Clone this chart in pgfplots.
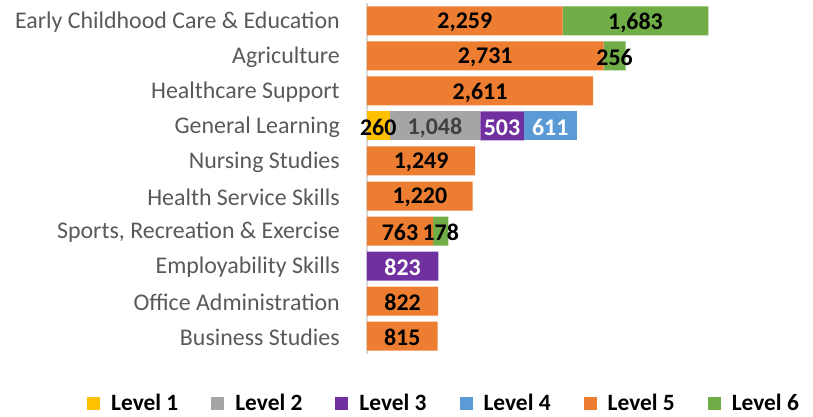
\documentclass[border=0pt]{standalone}
\usepackage{pgfplots}
\usepackage{pgfplotstable}
\pgfplotsset{compat=1.18}
\usepackage{fontspec}
\setmainfont{Carlito}
\definecolor{cL1}{HTML}{FFC000}
\definecolor{cL2}{HTML}{A5A5A5}
\definecolor{cL3}{HTML}{7030A0}
\definecolor{cL4}{HTML}{5B9BD5}
\definecolor{cL5}{HTML}{ED7D31}
\definecolor{cL6}{HTML}{70AD47}
\definecolor{axgray}{HTML}{D9D9D9}
\definecolor{labgray}{HTML}{595959}
\definecolor{dgray}{HTML}{404040}
\pgfplotstableread{
y L1 L2 L3 L4 L5 L6
0 0 0 0 0 2259 1683
1 0 0 0 0 2731 256
2 0 0 0 0 2611 0
3 260 1048 503 611 0 0
4 0 0 0 0 1249 0
5 0 0 0 0 1220 0
6 0 0 0 0 763 178
7 0 0 823 0 0 0
8 0 0 0 0 822 0
9 0 0 0 0 815 0
}\data
\begin{document}
\begin{tikzpicture}
\begin{axis}[
  scale only axis,
  width=433bp, height=350bp,
  xbar stacked,
  bar width=29bp,
  xmin=0, xmax=5000,
  ymin=-0.5, ymax=9.5,
  y dir=reverse,
  ytick={0,...,9},
  yticklabels={Early Childhood Care \& Education, Agriculture, Healthcare Support, General Learning, Nursing Studies, Health Service Skills, {Sports, Recreation \& Exercise}, Employability Skills, Office Administration, Business Studies},
  yticklabel style={font=\fontsize{24}{28}\selectfont, text=labgray, inner sep=0pt, xshift=-27bp, yshift=-1.5bp},
  major tick length=0pt,
  hide x axis,
  axis y line*=left,
  y axis line style={axgray, line width=1.5bp, -},
  clip=false,
  /pgf/number format/assume math mode=true,
  /pgf/number format/1000 sep={,},
  nodes near coords={\pgfmathfloatifflags{\pgfplotspointmeta}{0}{}{\pgfmathprintnumber{\pgfplotspointmeta}}},
  every node near coord/.append style={font=\fontsize{24}{28}\selectfont\bfseries, yshift=-1.5bp},
  legend style={draw=none, at={(0.178,-0.105)}, anchor=north, legend columns=6,
    font=\fontsize{23.5}{28}\selectfont\bfseries,
    /tikz/every odd column/.append style={column sep=9bp},
    /tikz/every even column/.append style={column sep=31bp}},
  legend image code/.code={\fill[#1] (0bp,-6.5bp) rectangle (13bp,6.5bp);},
]
\addplot[fill=cL1, draw=none, every node near coord/.append style={text=black}] table[x=L1,y=y] \data;
\addplot[fill=cL2, draw=none, every node near coord/.append style={text=dgray}] table[x=L2,y=y] \data;
\addplot[fill=cL3, draw=none, every node near coord/.append style={text=white}] table[x=L3,y=y] \data;
\addplot[fill=cL4, draw=none, every node near coord/.append style={text=white}] table[x=L4,y=y] \data;
\addplot[fill=cL5, draw=none, every node near coord/.append style={text=black}] table[x=L5,y=y] \data;
\addplot[fill=cL6, draw=none, every node near coord/.append style={text=black}] table[x=L6,y=y] \data;
\legend{Level 1, Level 2, Level 3, Level 4, Level 5, Level 6}
\end{axis}
\path[use as bounding box] (-367bp,-59.5bp) rectangle (446bp,353.5bp);
\end{tikzpicture}
\end{document}
